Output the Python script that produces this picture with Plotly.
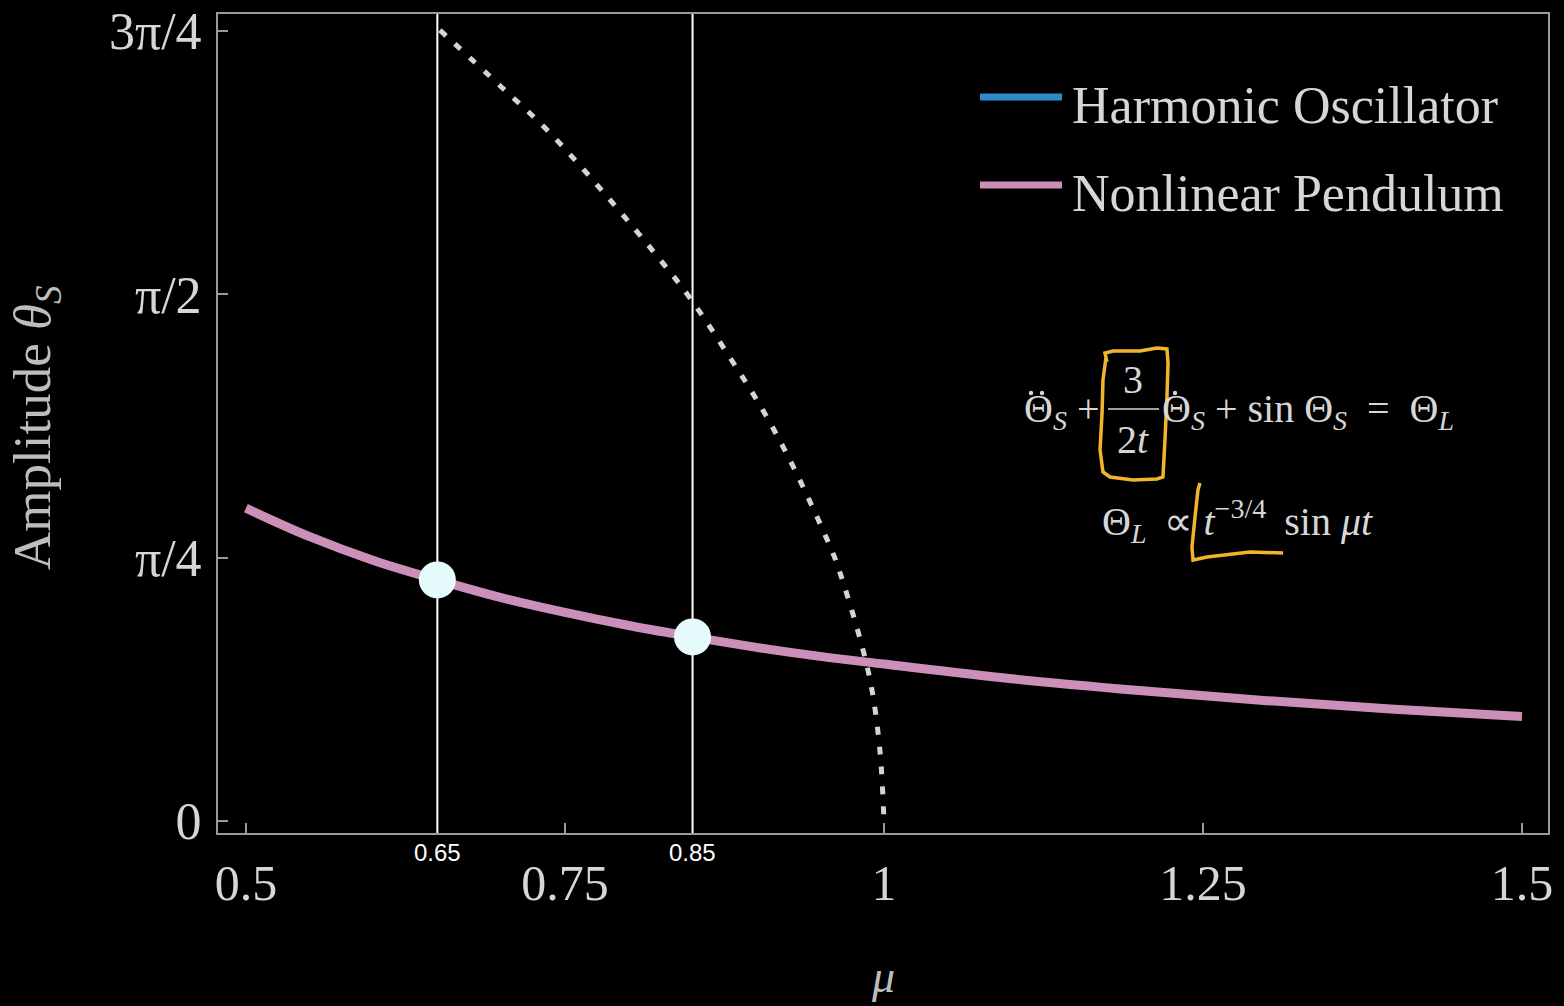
import math
import plotly.graph_objects as go

# Nonlinear pendulum: locked amplitude vs. drive frequency ratio mu
mu_pendulum = [0.50, 0.55, 0.60, 0.65, 0.70, 0.75, 0.80, 0.85, 0.90, 0.95,
               1.00, 1.10, 1.20, 1.30, 1.40, 1.50]
amp_pendulum = [0.933, 0.848, 0.777, 0.719, 0.666, 0.622, 0.583, 0.549, 0.518, 0.491,
                0.468, 0.424, 0.389, 0.359, 0.333, 0.312]

# Frequency-amplitude backbone of the pendulum (dotted curve)
mu_backbone = [0.652, 0.700, 0.736, 0.780, 0.828, 0.848, 0.879, 0.905, 0.929,
               0.958, 0.964, 0.983, 0.991, 0.997, 1.000]
amp_backbone = [2.359, 2.190, 2.061, 1.876, 1.658, 1.560, 1.384, 1.226, 1.056,
                0.817, 0.758, 0.519, 0.382, 0.203, 0.000]

# Highlighted drive frequencies and their amplitudes on the pendulum curve
marker_mu = [0.65, 0.85]
marker_amp = [0.719, 0.549]

# Axis ticks
x_tickvals = [0.5, 0.75, 1.0, 1.25, 1.5]
x_ticktext = ["0.5", "0.75", "1", "1.25", "1.5"]
y_tickvals = [0, math.pi / 4, math.pi / 2, 3 * math.pi / 4]
y_ticktext = ["0", "π/4", "π/2", "3π/4"]

legend_names = ["Harmonic Oscillator", "Nonlinear Pendulum"]
legend_colors = ["#2e8bc9", "#cc8fba"]

W, H = 1564, 1006
ML, MR, MT, MB = 218, 16, 14, 173
# pixel box of the plotting area, used to place the overlay text and marks
BOX_L, BOX_R, BOX_T, BOX_B = ML, W - MR, MT, H - MB

SERIF = "Liberation Serif, Times New Roman, serif"
TEXT = "#d6d6d6"
AXIS = "#9a9a9a"
YELLOW = "#f1b52c"


def px(x):
    return (x - BOX_L) / (BOX_R - BOX_L)


def py(y):
    return (BOX_B - y) / (BOX_B - BOX_T)


def path(points):
    s = "M {:.4f},{:.4f}".format(px(points[0][0]), py(points[0][1]))
    for a, b in points[1:]:
        s += " L {:.4f},{:.4f}".format(px(a), py(b))
    return s


fig = go.Figure()

fig.add_trace(go.Scatter(
    x=mu_pendulum, y=amp_pendulum, mode="lines", line_shape="spline",
    line=dict(color=legend_colors[1], width=9), showlegend=False, hoverinfo="skip"))

fig.add_trace(go.Scatter(
    x=mu_backbone, y=amp_backbone, mode="lines", line_shape="spline",
    line=dict(color="#d4d4d4", width=5, dash="8px,12px"), showlegend=False,
    hoverinfo="skip"))

fig.add_trace(go.Scatter(
    x=marker_mu, y=marker_amp, mode="markers",
    marker=dict(size=37, color="#e6fbfb", line=dict(width=0)),
    showlegend=False, hoverinfo="skip"))

shapes = []
annotations = []

# Vertical guides at the highlighted frequencies, labelled underneath the axis
for m in marker_mu:
    shapes.append(dict(type="line", xref="x", yref="paper", x0=m, x1=m, y0=0, y1=1,
                       line=dict(color="white", width=2), layer="below"))
    annotations.append(dict(x=m, y=py(853), xref="x", yref="paper", text=f"{m:g}",
                            showarrow=False, xanchor="center", yanchor="middle",
                            font=dict(family="Liberation Sans, Arial, sans-serif",
                                      size=24, color="white")))

# Legend drawn by hand with long line keys
for i, (name, col) in enumerate(zip(legend_names, legend_colors)):
    yk = 97 + 88 * i
    shapes.append(dict(type="line", xref="paper", yref="paper",
                       x0=px(980), x1=px(1062), y0=py(yk), y1=py(yk),
                       line=dict(color=col, width=7)))
    annotations.append(dict(x=px(1070), y=py(yk + 8), xref="paper", yref="paper",
                            text=name, showarrow=False, xanchor="left",
                            yanchor="middle", font=dict(family=SERIF, size=52, color=TEXT)))

# Axis titles
annotations.append(dict(x=px(36), y=py(428), xref="paper", yref="paper",
                        text="Amplitude <i>θ</i><sub><i>S</i></sub>", textangle=-90,
                        showarrow=False, xanchor="center", yanchor="middle",
                        font=dict(family=SERIF, size=53, color="#bdbdbd")))
annotations.append(dict(x=px(883), y=py(976), xref="paper", yref="paper",
                        text="<i>μ</i>", showarrow=False, xanchor="center",
                        yanchor="middle", font=dict(family=SERIF, size=46, color="#bdbdbd")))

# Equation of motion with the 3/(2t) damping term as a stacked fraction
EQ = 40
annotations.append(dict(x=px(1022), y=py(411), xref="paper", yref="paper",
                        text="Θ<sub><i>S</i></sub> +", showarrow=False,
                        xanchor="left", yanchor="middle",
                        font=dict(family=SERIF, size=EQ, color=TEXT)))
annotations.append(dict(x=px(1133), y=py(379), xref="paper", yref="paper",
                        text="3", showarrow=False, xanchor="center", yanchor="middle",
                        font=dict(family=SERIF, size=EQ, color=TEXT)))
annotations.append(dict(x=px(1133), y=py(440), xref="paper", yref="paper",
                        text="2<i>t</i>", showarrow=False, xanchor="center",
                        yanchor="middle", font=dict(family=SERIF, size=EQ, color=TEXT)))
shapes.append(dict(type="line", xref="paper", yref="paper", x0=px(1108), x1=px(1159),
                   y0=py(409), y1=py(409), line=dict(color=TEXT, width=1.5)))
annotations.append(dict(x=px(1160), y=py(411), xref="paper", yref="paper",
                        text="Θ<sub><i>S</i></sub> + sin Θ<sub><i>S</i></sub>\u2002=\u2002Θ<sub><i>L</i></sub>",
                        showarrow=False, xanchor="left", yanchor="middle",
                        font=dict(family=SERIF, size=EQ, color=TEXT)))
annotations.append(dict(x=px(1100), y=py(521), xref="paper", yref="paper",
                        text="Θ<sub><i>L</i></sub>\u2009 ∝ <i>t</i><sup>−3/4</sup>\u2009 sin <i>μt</i>",
                        showarrow=False, xanchor="left", yanchor="middle",
                        font=dict(family=SERIF, size=EQ, color=TEXT)))

# Time-derivative dots over the Theta symbols
for cx in (1031, 1042, 1175):
    shapes.append(dict(type="circle", xref="paper", yref="paper",
                       x0=px(cx - 2.2), x1=px(cx + 2.2), y0=py(393 + 2.2), y1=py(393 - 2.2),
                       fillcolor=TEXT, line=dict(width=0)))

# Hand-drawn highlight marks
box_pts = [(1107, 362), (1105, 353), (1113, 351), (1140, 351), (1157, 348), (1167, 349),
           (1168, 363), (1167, 397), (1165, 440), (1163, 477), (1157, 479), (1133, 480),
           (1110, 477), (1103, 472), (1100, 450), (1102, 413), (1103, 380), (1106, 357)]
ell_pts = [(1200, 483), (1198, 490), (1195, 517), (1192, 547), (1193, 560), (1207, 557),
           (1250, 552), (1283, 553)]
for pts in (box_pts, ell_pts):
    shapes.append(dict(type="path", xref="paper", yref="paper", path=path(pts),
                       line=dict(color=YELLOW, width=3.5)))

axis_common = dict(showgrid=False, zeroline=False, showline=True, linecolor=AXIS,
                   linewidth=2, mirror=True, ticks="inside", ticklen=10, tickwidth=1.5,
                   tickcolor=AXIS, automargin=False)

fig.update_layout(
    width=W, height=H,
    margin=dict(l=ML, r=MR, t=MT, b=MB, pad=0, autoexpand=False),
    paper_bgcolor="black", plot_bgcolor="black",
    showlegend=False,
    xaxis=dict(range=[0.4781, 1.5204], tickvals=x_tickvals, ticktext=x_ticktext,
               ticklabelstandoff=5, tickfont=dict(family=SERIF, size=50, color=TEXT),
               **axis_common),
    yaxis=dict(range=[-0.0358, 2.407], tickvals=y_tickvals, ticktext=y_ticktext,
               ticklabelstandoff=4, tickfont=dict(family=SERIF, size=52, color=TEXT),
               **axis_common),
    shapes=shapes,
    annotations=annotations,
)

fig.write_html("out.html")
